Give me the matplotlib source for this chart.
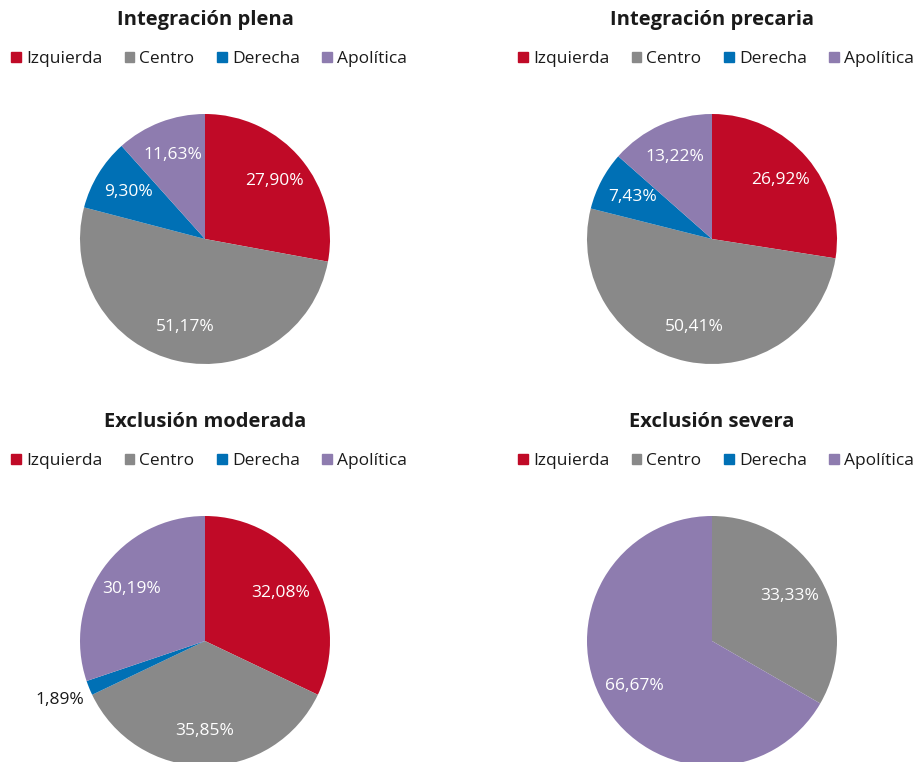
import matplotlib.pyplot as plt
import numpy as np

plt.rcParams['font.family'] = ['Open Sans', 'DejaVu Sans']

categorias = ["Izquierda", "Centro", "Derecha", "Apolítica"]
colores = ["#C00A27", "#898989", "#0070B5", "#8E7CAF"]

titulos = ["Integración plena", "Integración precaria",
           "Exclusión moderada", "Exclusión severa"]
plena = [27.90, 51.17, 9.30, 11.63]
precaria = [26.92, 50.41, 7.43, 13.22]
moderada = [32.08, 35.85, 1.89, 30.19]
severa = [0.0, 33.33, 0.0, 66.67]
datos = [plena, precaria, moderada, severa]

W, H = 918, 762
fig = plt.figure(figsize=(W / 100, H / 100), dpi=100)

# centros de las tartas en pixeles (x, y desde arriba)
centros = [(205, 239), (712, 239), (205, 641), (712, 641)]
R = 125

for i, (titulo, vals) in enumerate(zip(titulos, datos)):
    cx, cy = centros[i]
    ax = fig.add_axes([(cx - R) / W, (H - cy - R) / H, 2 * R / W, 2 * R / H])
    wedges, _ = ax.pie(vals, colors=colores, startangle=90, counterclock=False,
                       radius=1, wedgeprops=dict(linewidth=0))
    ax.set_xlim(-1, 1)
    ax.set_ylim(-1, 1)
    ax.set_aspect('equal')
    ax.axis('off')

    for w, v in zip(wedges, vals):
        if v <= 0:
            continue
        ang = np.deg2rad((w.theta1 + w.theta2) / 2)
        txt = f"{v:.2f}".replace('.', ',') + '%'
        if v < 3:
            r, col = 1.25, '#1a1a1a'
        else:
            r, col = 0.72, 'white'
        ax.text(r * np.cos(ang), r * np.sin(ang), txt, ha='center', va='center',
                color=col, fontsize=12.5, clip_on=False)

    # titulo
    fig.text(cx / W, 1 - (cy - 219) / H, titulo, ha='center', va='center',
             fontsize=14.5, fontweight='bold', color='#1a1a1a')

    # leyenda
    handles = [plt.Rectangle((0, 0), 1, 1, color=c) for c in colores]
    fig.legend(handles, categorias, ncol=4, frameon=False,
               loc='center', bbox_to_anchor=((cx + 4) / W, 1 - (cy - 180) / H),
               fontsize=12.5, handlelength=0.55, handleheight=0.55,
               handletextpad=0.3, columnspacing=1.3, labelcolor='#1a1a1a')

fig.savefig('out.png', dpi=100)
